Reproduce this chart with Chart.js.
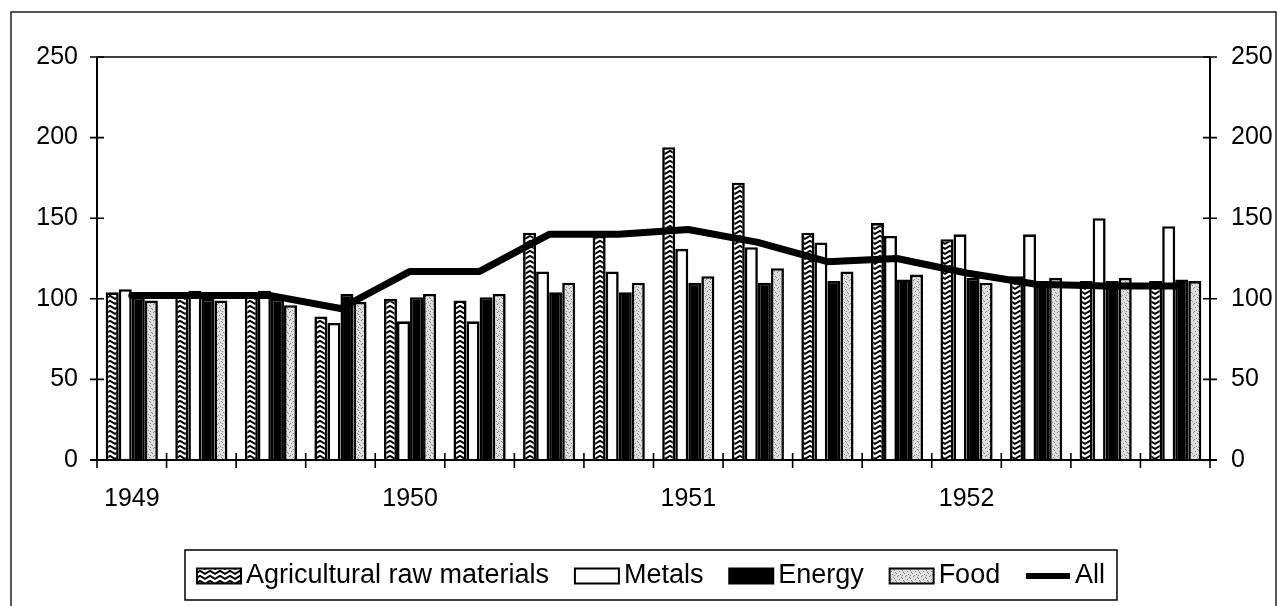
<!DOCTYPE html>
<html>
<head>
<meta charset="utf-8">
<script src="https://cdn.jsdelivr.net/npm/chart.js@4.4.1/dist/chart.umd.min.js"></script>
<style>
  html, body { margin: 0; padding: 0; background: #fff; }
  #wrap { width: 1283px; height: 606px; }
</style>
</head>
<body>
<div id="wrap"><canvas id="chart" width="1283" height="606"></canvas></div>
<script>
// Quarterly commodity price indices, 1949 - 1952
const quarters = [
  '1949 Q1', '1949 Q2', '1949 Q3', '1949 Q4',
  '1950 Q1', '1950 Q2', '1950 Q3', '1950 Q4',
  '1951 Q1', '1951 Q2', '1951 Q3', '1951 Q4',
  '1952 Q1', '1952 Q2', '1952 Q3', '1952 Q4'
];
const yearTicks = ['1949', '', '', '', '1950', '', '', '', '1951', '', '', '', '1952', '', '', ''];

const agricultural = [104, 103, 104, 89, 100, 99, 141, 139, 194, 172, 141, 147, 137, 114, 111, 111];
const metals       = [106, 105, 105, 85, 86, 86, 117, 117, 131, 132, 135, 139, 140, 140, 150, 145];
const energy       = [101, 100, 100, 103, 101, 101, 104, 104, 110, 110, 111, 112, 113, 110, 111, 112];
const food         = [99, 99, 96, 98, 103, 103, 110, 110, 114, 119, 117, 115, 110, 113, 113, 111];
const allIndex     = [102, 102, 102, 94, 117, 117, 140, 140, 143, 135, 123, 125, 116, 109, 108, 108];

const FONT = '"Liberation Sans", Arial, sans-serif';

// zigzag hatch for agricultural raw materials
function makeZigzag() {
    const c = document.createElement('canvas');
    c.width = 10; c.height = 5;
    const g = c.getContext('2d');
    g.fillStyle = '#fff';
    g.fillRect(0, 0, 10, 5);
    g.strokeStyle = '#000';
    g.lineWidth = 2;
    g.beginPath();
    g.moveTo(-1, 0.3); g.lineTo(5, 3.8); g.lineTo(11, 0.3);
    g.stroke();
    return g.createPattern(c, 'repeat');
}

// light grey stipple for food
function makeStipple() {
    const c = document.createElement('canvas');
    c.width = 8; c.height = 8;
    const g = c.getContext('2d');
    g.fillStyle = '#dedede';
    g.fillRect(0, 0, 8, 8);
    g.fillStyle = '#888';
    [[1, 0], [5, 1], [3, 3], [7, 4], [0, 5], [4, 6], [2, 7], [6, 2], [6, 7]].forEach(([x, y]) => g.fillRect(x, y, 1, 1));
    return g.createPattern(c, 'repeat');
}

const zigzag = makeZigzag();
const stipple = makeStipple();

const legendItems = [
    { text: 'Agricultural raw materials', fill: zigzag, type: 'box' },
    { text: 'Metals', fill: '#fff', type: 'box' },
    { text: 'Energy', fill: '#000', type: 'box' },
    { text: 'Food', fill: stipple, type: 'box' },
    { text: 'All', fill: '#000', type: 'line' }
];

const framePlugin = {
    id: 'frame',
    afterDatasetsDraw(chart) {
        const ctx = chart.ctx;
        const area = chart.chartArea;
        const x = chart.scales.x;
        const y = chart.scales.y;
        ctx.save();
        ctx.strokeStyle = '#000';

        // plot border top
        ctx.lineWidth = 1.5;
        ctx.beginPath();
        ctx.moveTo(area.left, area.top);
        ctx.lineTo(area.right, area.top);
        ctx.stroke();

        // axes
        ctx.lineWidth = 2;
        ctx.beginPath();
        ctx.moveTo(area.left, area.top);
        ctx.lineTo(area.left, area.bottom);
        ctx.moveTo(area.right, area.top);
        ctx.lineTo(area.right, area.bottom);
        ctx.moveTo(area.left - 7, area.bottom);
        ctx.lineTo(area.right + 7, area.bottom);
        ctx.stroke();

        // crossing tick marks
        ctx.lineWidth = 1.6;
        ctx.beginPath();
        y.ticks.forEach(t => {
            const py = y.getPixelForValue(t.value);
            ctx.moveTo(area.left - 7, py); ctx.lineTo(area.left + 7, py);
            ctx.moveTo(area.right - 7, py); ctx.lineTo(area.right + 7, py);
        });
        const n = quarters.length;
        for (let i = 0; i <= n; i++) {
            const px = x.left + i * x.width / n;
            ctx.moveTo(px, area.bottom - 7);
            ctx.lineTo(px, area.bottom + 8);
        }
        ctx.stroke();
        ctx.restore();
    },
    afterDraw(chart) {
        const ctx = chart.ctx;
        ctx.save();

        // outer frame
        ctx.strokeStyle = '#222';
        ctx.lineWidth = 1.5;
        ctx.strokeRect(11, 12, 1265, 610);

        // legend
        const box = { left: 185, right: 1117, top: 550, bottom: 600 };
        ctx.lineWidth = 1.5;
        ctx.strokeStyle = '#000';
        ctx.strokeRect(box.left, box.top, box.right - box.left, box.bottom - box.top);

        ctx.font = '27px ' + FONT;
        ctx.textBaseline = 'middle';
        ctx.fillStyle = '#000';
        const swW = 44, swH = 15, textGap = 5;
        const widths = legendItems.map(it => swW + textGap + ctx.measureText(it.text).width);
        const inner = (box.right - box.left) - 24;
        const gap = (inner - widths.reduce((a, b) => a + b, 0)) / (legendItems.length - 1);
        const cy = (box.top + box.bottom) / 2 + 1;
        let cx = box.left + 12;
        legendItems.forEach((it, i) => {
            if (it.type === 'box') {
                ctx.fillStyle = it.fill;
                ctx.fillRect(cx, cy - swH / 2, swW, swH);
                ctx.lineWidth = 2;
                ctx.strokeStyle = '#000';
                ctx.strokeRect(cx, cy - swH / 2, swW, swH);
            } else {
                ctx.lineWidth = 6;
                ctx.strokeStyle = '#000';
                ctx.beginPath();
                ctx.moveTo(cx, cy);
                ctx.lineTo(cx + swW, cy);
                ctx.stroke();
            }
            ctx.fillStyle = '#000';
            ctx.fillText(it.text, cx + swW + textGap, cy);
            cx += widths[i] + gap;
        });
        ctx.restore();
    }
};

const barStyle = {
    borderColor: '#000',
    borderWidth: 2.6,
    borderSkipped: 'bottom',
    categoryPercentage: 0.75,
    barPercentage: 1.0,
    yAxisID: 'y',
    order: 2
};

new Chart(document.getElementById('chart'), {
    type: 'bar',
    data: {
        labels: quarters,
        datasets: [
            { ...barStyle, label: 'Agricultural raw materials', data: agricultural, backgroundColor: zigzag },
            { ...barStyle, label: 'Metals', data: metals, backgroundColor: '#fff' },
            { ...barStyle, label: 'Energy', data: energy, backgroundColor: '#000' },
            { ...barStyle, label: 'Food', data: food, backgroundColor: stipple },
            {
                type: 'line',
                label: 'All',
                data: allIndex,
                borderColor: '#000',
                borderWidth: 7,
                pointRadius: 0,
                tension: 0,
                borderCapStyle: 'round',
                borderJoinStyle: 'round',
                yAxisID: 'y',
                order: 1
            }
        ]
    },
    options: {
        responsive: false,
        animation: false,
        events: [],
        layout: { padding: { top: 57, left: 0, right: 0, bottom: 0 } },
        plugins: {
            legend: { display: false },
            tooltip: { enabled: false }
        },
        scales: {
            x: {
                grid: { display: false, drawTicks: false },
                border: { display: false },
                ticks: {
                    autoSkip: false,
                    maxRotation: 0,
                    padding: 24,
                    color: '#000',
                    font: { family: FONT, size: 25 },
                    callback: (v, i) => yearTicks[i]
                },
                afterFit: s => { s.height = 146; }
            },
            y: {
                position: 'left',
                min: 0,
                max: 250,
                grid: { display: false, drawTicks: false },
                border: { display: false },
                ticks: {
                    stepSize: 50,
                    padding: 19,
                    color: '#000',
                    font: { family: FONT, size: 25 }
                },
                afterFit: s => { s.width = 97; }
            },
            y2: {
                position: 'right',
                min: 0,
                max: 250,
                grid: { display: false, drawTicks: false },
                border: { display: false },
                ticks: {
                    stepSize: 50,
                    padding: 21,
                    color: '#000',
                    font: { family: FONT, size: 25 }
                },
                afterFit: s => { s.width = 73; }
            }
        }
    },
    plugins: [framePlugin]
});
</script>
</body>
</html>
